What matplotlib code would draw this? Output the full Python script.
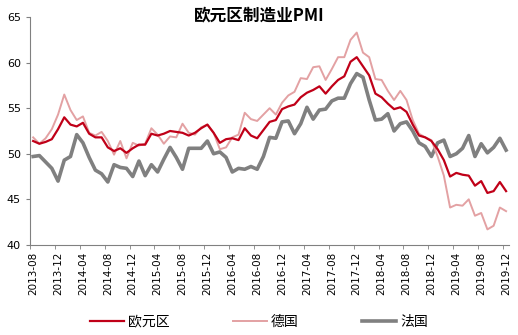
import matplotlib.pyplot as plt
import numpy as np
import pandas as pd

plt.rcParams['font.family'] = ['DejaVu Sans', 'Noto Sans CJK SC']

# months 2013-08 .. 2019-12
months = pd.period_range('2013-08', '2019-12', freq='M').strftime('%Y-%m').tolist()

euro = [51.4, 51.1, 51.3, 51.6, 52.7, 54.0, 53.2, 53.0, 53.4, 52.2, 51.8, 51.8,
        50.7, 50.3, 50.6, 50.1, 50.6, 51.0, 51.0, 52.2, 52.0, 52.2, 52.5, 52.4,
        52.3, 52.0, 52.3, 52.8, 53.2, 52.3, 51.2, 51.6, 51.7, 51.5, 52.8, 52.0,
        51.7, 52.6, 53.5, 53.7, 54.9, 55.2, 55.4, 56.2, 56.7, 57.0, 57.4, 56.6,
        57.4, 58.1, 58.5, 60.1, 60.6, 59.6, 58.6, 56.6, 56.2, 55.5, 54.9, 55.1,
        54.6, 53.2, 52.0, 51.8, 51.4, 50.5, 49.3, 47.5, 47.9, 47.7, 47.6, 46.5,
        47.0, 45.7, 45.9, 46.9, 45.9]

germany = [51.8, 51.1, 51.7, 52.7, 54.3, 56.5, 54.8, 53.7, 54.1, 52.3, 52.0, 52.4,
           51.4, 49.9, 51.4, 49.5, 51.2, 50.9, 51.1, 52.8, 52.1, 51.1, 51.9, 51.8,
           53.3, 52.3, 52.1, 52.9, 53.2, 52.3, 50.5, 50.7, 51.8, 52.1, 54.5, 53.8,
           53.6, 54.3, 55.0, 54.3, 55.6, 56.4, 56.8, 58.3, 58.2, 59.5, 59.6, 58.1,
           59.3, 60.6, 60.6, 62.5, 63.3, 61.1, 60.6, 58.2, 58.1, 56.9, 55.9, 56.9,
           55.9, 53.7, 52.2, 51.8, 51.5, 49.7, 47.6, 44.1, 44.4, 44.3, 45.0, 43.2,
           43.5, 41.7, 42.1, 44.1, 43.7]

france = [49.7, 49.8, 49.1, 48.4, 47.0, 49.3, 49.7, 52.1, 51.2, 49.6, 48.2, 47.8,
          46.9, 48.8, 48.5, 48.4, 47.5, 49.2, 47.6, 48.8, 48.0, 49.4, 50.7, 49.6,
          48.3, 50.6, 50.6, 50.6, 51.4, 50.0, 50.2, 49.6, 48.0, 48.4, 48.3, 48.6,
          48.3, 49.7, 51.8, 51.7, 53.5, 53.6, 52.2, 53.3, 55.1, 53.8, 54.8, 54.9,
          55.8, 56.1, 56.1, 57.7, 58.8, 58.4, 55.9, 53.7, 53.8, 54.4, 52.5, 53.3,
          53.5, 52.5, 51.2, 50.8, 49.7, 51.2, 51.5, 49.7, 50.0, 50.6, 52.0, 49.7,
          51.1, 50.1, 50.7, 51.7, 50.4]

x = np.arange(len(months))

fig = plt.figure(figsize=(5.18, 3.35), dpi=100)
ax = fig.add_axes([0.058, 0.269, 0.925, 0.68])

ax.plot(x, france, color='#808080', linewidth=2.6, label='法国', zorder=1)
ax.plot(x, germany, color='#E3A1A3', linewidth=1.4, label='德国', zorder=2)
ax.plot(x, euro, color='#C00018', linewidth=1.6, label='欧元区', zorder=3)

ax.set_xlim(-0.5, len(months) - 0.5)
ax.set_ylim(40, 65)
ax.set_yticks(range(40, 66, 5))
ax.set_xticks(x[::4])
ax.set_xticklabels(months[::4], rotation=90, fontsize=7.5)
ax.set_xticks(np.arange(-0.5, len(months), 4), minor=True)
ax.tick_params(axis='x', which='major', length=0, pad=5)
ax.tick_params(axis='x', which='minor', length=3, color='#808080')
ax.tick_params(axis='y', length=3, color='#808080', labelsize=8)

for s in ['top', 'right']:
    ax.spines[s].set_visible(False)
for s in ['left', 'bottom']:
    ax.spines[s].set_color('#808080')

fig.text(0.5, 0.955, '欧元区制造业PMI', ha='center', va='center', fontsize=12,
         fontweight='bold', family=['Noto Sans CJK SC'])

h, l = ax.get_legend_handles_labels()
order = [2, 1, 0]
fig.legend([h[i] for i in order], [l[i] for i in order], loc='center',
           bbox_to_anchor=(0.5, 0.04), ncol=3, frameon=False, handlelength=2.4,
           columnspacing=4.6, handletextpad=0.3,
           prop={'family': 'Noto Sans CJK SC', 'size': 10})

fig.savefig('out.png', dpi=100)
